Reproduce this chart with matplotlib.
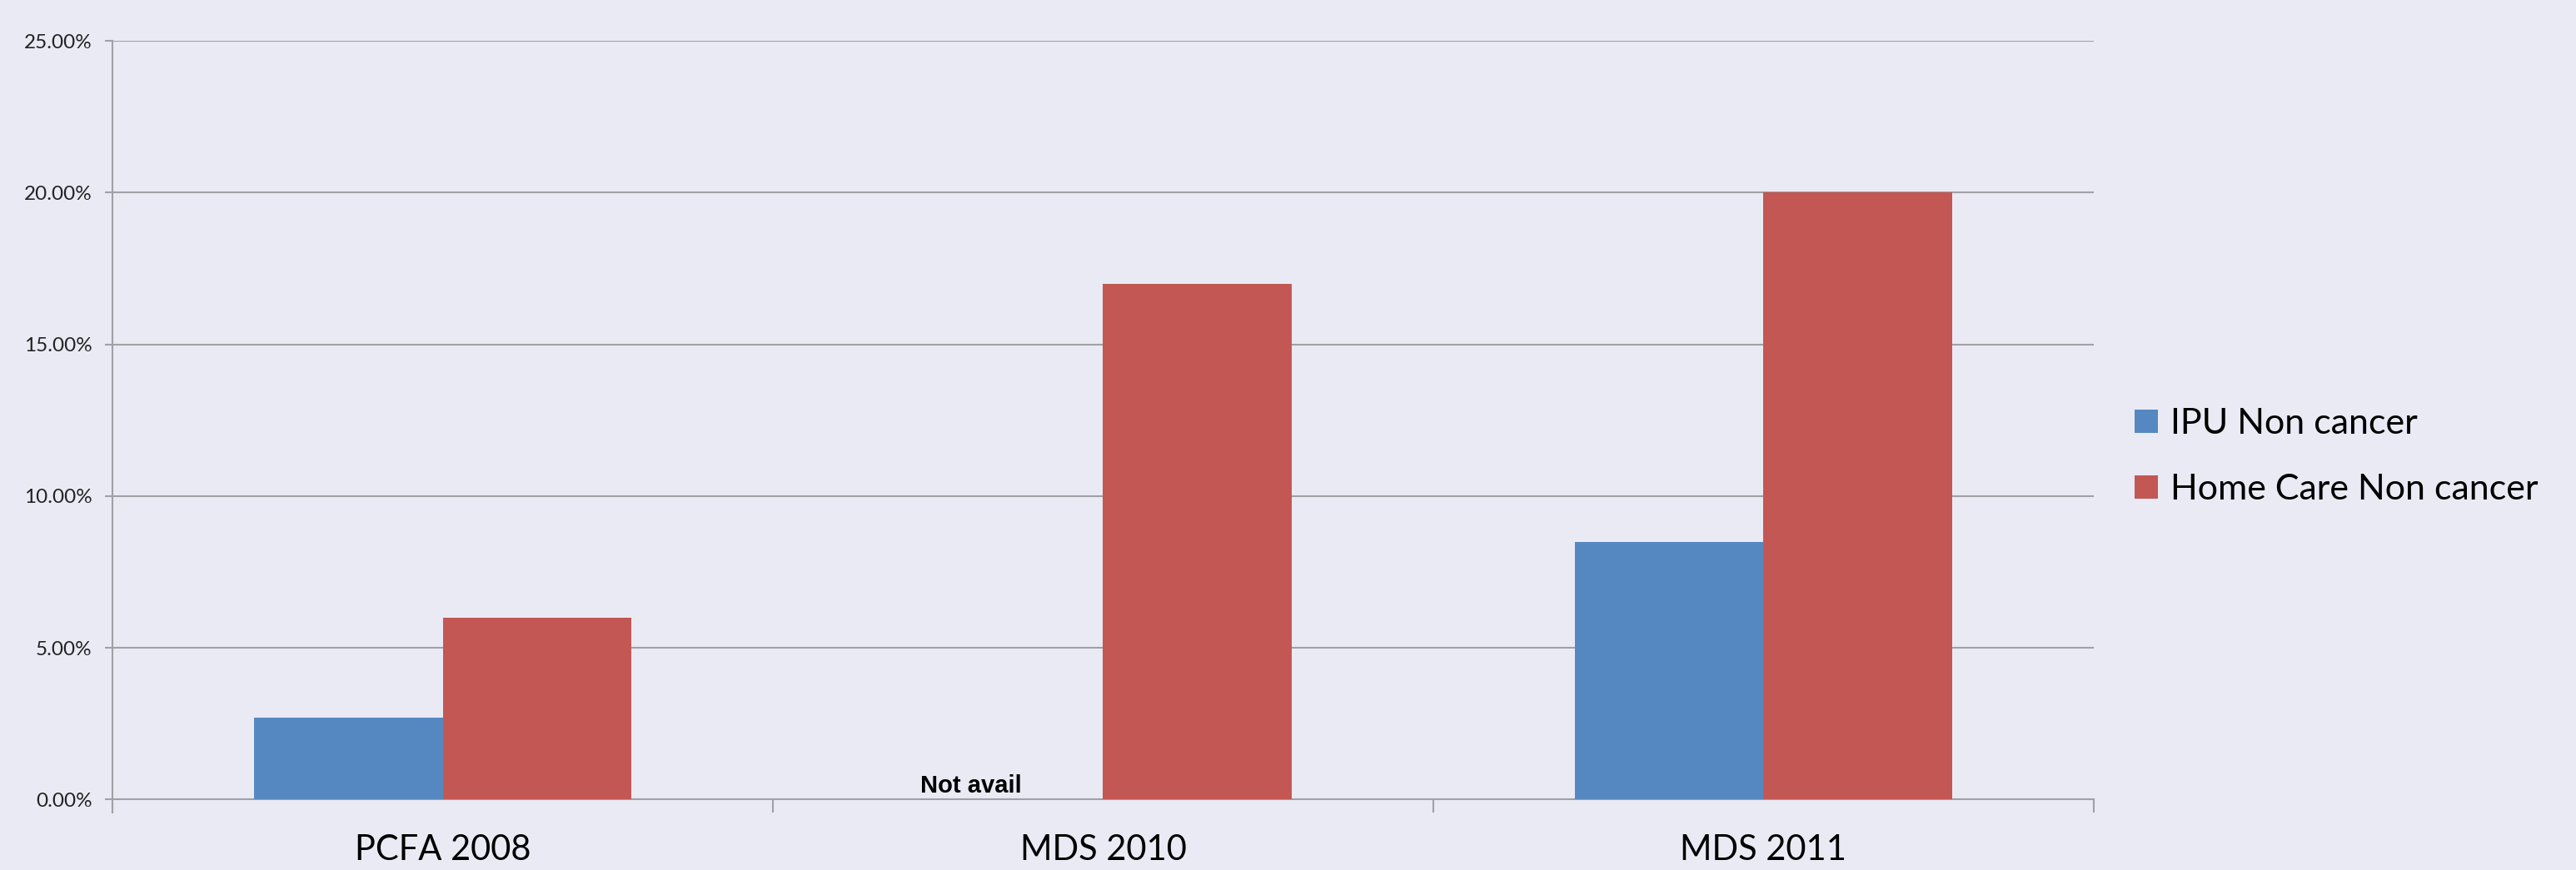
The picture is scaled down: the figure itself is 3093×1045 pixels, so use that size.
import matplotlib
matplotlib.use("Agg")
import matplotlib.pyplot as plt
from matplotlib.ticker import FuncFormatter, FixedLocator

categories = ["PCFA 2008", "MDS 2010", "MDS 2011"]
ipu_non_cancer = [2.7, None, 8.5]        # % (MDS 2010 not available)
home_care_non_cancer = [6.0, 17.0, 20.0]  # %
series_names = ["IPU Non cancer", "Home Care Non cancer"]
y_ticks = [0, 5, 10, 15, 20, 25]

bg = "#eaeaf5"
blue = "#5588c0"
red = "#c35753"
grid_col = "#a0a0a6"

fig = plt.figure(figsize=(30.93, 10.45), dpi=100, facecolor=bg)
ax = fig.add_axes([0.04365, 0.081, 0.8128 - 0.04365, 0.953 - 0.081])
ax.set_facecolor(bg)

w = 0.2857
x = list(range(len(categories)))
ipu_x = [i - w / 2 for i, v in zip(x, ipu_non_cancer) if v is not None]
ipu_v = [v for v in ipu_non_cancer if v is not None]
ax.bar(ipu_x, ipu_v, width=w, color=blue, label=series_names[0], zorder=3)
ax.bar([i + w / 2 for i in x], home_care_non_cancer, width=w, color=red,
       label=series_names[1], zorder=3)

# label for missing value
for i, v in zip(x, ipu_non_cancer):
    if v is None:
        ax.text(i - 0.2, 0.22, "Not avail", ha="center", va="baseline",
                fontsize=21, fontweight="bold", family="Liberation Sans",
                color="black", zorder=4)

ax.set_xlim(-0.5, len(categories) - 0.5)
ax.set_ylim(0, 25)
ax.set_yticks(y_ticks)
ax.yaxis.set_major_formatter(FuncFormatter(lambda v, p: f"{v:.2f}%"))
ax.yaxis.grid(True, color=grid_col, linewidth=1.5, zorder=0)
ax.tick_params(axis="y", length=6.5, width=1.5, color=grid_col, pad=11,
               labelsize=17.5, labelcolor="#222222")
for lab in ax.get_yticklabels():
    lab.set_family("Lato")

# category boundaries as major ticks, names as minor ticks
ax.xaxis.set_major_locator(FixedLocator([i - 0.5 for i in range(len(categories) + 1)]))
ax.xaxis.set_major_formatter(FuncFormatter(lambda v, p: ""))
ax.xaxis.set_minor_locator(FixedLocator(x))
ax.set_xticklabels(categories, minor=True, fontsize=30, family="Lato")
ax.tick_params(axis="x", which="major", length=11.5, width=1.5, color=grid_col)
ax.tick_params(axis="x", which="minor", length=0, pad=30)

for s in ["top", "right"]:
    ax.spines[s].set_visible(False)
for s in ["left", "bottom"]:
    ax.spines[s].set_color(grid_col)
    ax.spines[s].set_linewidth(1.5)
ax.spines["left"].set_bounds(-0.44, 25)
ax.spines["left"].set_zorder(0)

leg = fig.legend(loc="center left", bbox_to_anchor=(0.8287, 0.475),
                 frameon=False, borderpad=0, borderaxespad=0,
                 handlelength=0.65, handleheight=0.65, handletextpad=0.35,
                 labelspacing=0.95, prop={"family": "Lato", "size": 31})

fig.savefig("out.png", dpi=100, facecolor=bg)
